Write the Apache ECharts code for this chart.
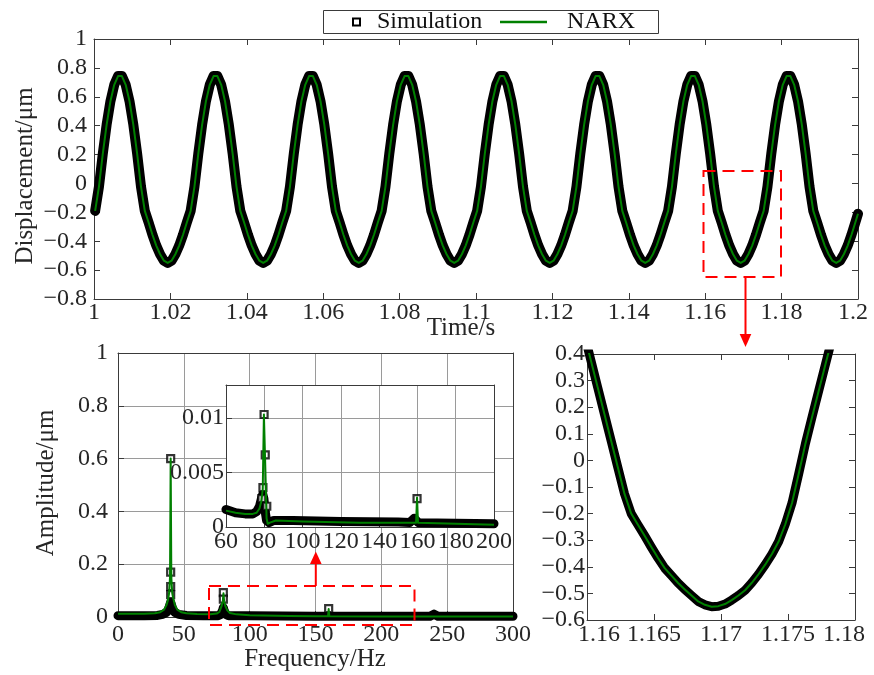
<!DOCTYPE html>
<html>
<head>
<meta charset="utf-8">
<script src="https://cdn.jsdelivr.net/npm/echarts@6/dist/echarts.min.js"></script>
<style>html,body{margin:0;padding:0;background:#fff}#c{width:874px;height:675px}</style>
</head>
<body>
<div id="c"></div>
<script>
// ---------- time-domain response (top panel), seconds / µm ----------
const timeS = [
1.0003,1.0013,1.0023,1.0033,1.0043,1.0053,1.0063,1.0073,1.0083,1.0093,1.0103,1.0113,1.0123,1.0133,1.0143,1.0153,1.0163,1.0173,1.0183,1.0193,1.0203,1.0213,1.0223,1.0233,1.0243,
1.0253,1.0263,1.0273,1.0283,1.0293,1.0303,1.0313,1.0323,1.0333,1.0343,1.0353,1.0363,1.0373,1.0383,1.0393,1.0403,1.0413,1.0423,1.0433,1.0443,1.0453,1.0463,1.0473,1.0483,1.0493,
1.0503,1.0513,1.0523,1.0533,1.0543,1.0553,1.0563,1.0573,1.0583,1.0593,1.0603,1.0613,1.0623,1.0633,1.0643,1.0653,1.0663,1.0673,1.0683,1.0693,1.0703,1.0713,1.0723,1.0733,1.0743,
1.0753,1.0763,1.0773,1.0783,1.0793,1.0803,1.0813,1.0823,1.0833,1.0843,1.0853,1.0863,1.0873,1.0883,1.0893,1.0903,1.0913,1.0923,1.0933,1.0943,1.0953,1.0963,1.0973,1.0983,1.0993,
1.1003,1.1013,1.1023,1.1033,1.1043,1.1053,1.1063,1.1073,1.1083,1.1093,1.1103,1.1113,1.1123,1.1133,1.1143,1.1153,1.1163,1.1173,1.1183,1.1193,1.1203,1.1213,1.1223,1.1233,1.1243,
1.1253,1.1263,1.1273,1.1283,1.1293,1.1303,1.1313,1.1323,1.1333,1.1343,1.1353,1.1363,1.1373,1.1383,1.1393,1.1403,1.1413,1.1423,1.1433,1.1443,1.1453,1.1463,1.1473,1.1483,1.1493,
1.1503,1.1513,1.1523,1.1533,1.1543,1.1553,1.1563,1.1573,1.1583,1.1593,1.1603,1.1613,1.1623,1.1633,1.1643,1.1653,1.1663,1.1673,1.1683,1.1693,1.1703,1.1713,1.1723,1.1733,1.1743,
1.1753,1.1763,1.1773,1.1783,1.1793,1.1803,1.1813,1.1823,1.1833,1.1843,1.1853,1.1863,1.1873,1.1883,1.1893,1.1903,1.1913,1.1923,1.1933,1.1943,1.1953,1.1963,1.1973,1.1983,1.1993,
1.2000
];
const dispSim = [
-0.19,-0.022,0.205,0.406,0.569,0.683,0.743,0.743,0.683,0.569,0.406,0.205,-0.022,-0.19,-0.27,-0.355,-0.43,-0.49,-0.535,-0.55,-0.535,-0.49,-0.43,-0.355,-0.27,
-0.19,-0.022,0.205,0.406,0.569,0.683,0.743,0.743,0.683,0.569,0.406,0.205,-0.022,-0.19,-0.27,-0.355,-0.43,-0.49,-0.535,-0.55,-0.535,-0.49,-0.43,-0.355,-0.27,
-0.19,-0.022,0.205,0.406,0.569,0.683,0.743,0.743,0.683,0.569,0.406,0.205,-0.022,-0.19,-0.27,-0.355,-0.43,-0.49,-0.535,-0.55,-0.535,-0.49,-0.43,-0.355,-0.27,
-0.19,-0.022,0.205,0.406,0.569,0.683,0.743,0.743,0.683,0.569,0.406,0.205,-0.022,-0.19,-0.27,-0.355,-0.43,-0.49,-0.535,-0.55,-0.535,-0.49,-0.43,-0.355,-0.27,
-0.19,-0.022,0.205,0.406,0.569,0.683,0.743,0.743,0.683,0.569,0.406,0.205,-0.022,-0.19,-0.27,-0.355,-0.43,-0.49,-0.535,-0.55,-0.535,-0.49,-0.43,-0.355,-0.27,
-0.19,-0.022,0.205,0.406,0.569,0.683,0.743,0.743,0.683,0.569,0.406,0.205,-0.022,-0.19,-0.27,-0.355,-0.43,-0.49,-0.535,-0.55,-0.535,-0.49,-0.43,-0.355,-0.27,
-0.19,-0.022,0.205,0.406,0.569,0.683,0.743,0.743,0.683,0.569,0.406,0.205,-0.022,-0.19,-0.27,-0.355,-0.43,-0.49,-0.535,-0.55,-0.535,-0.49,-0.43,-0.355,-0.27,
-0.19,-0.022,0.205,0.406,0.569,0.683,0.743,0.743,0.683,0.569,0.406,0.205,-0.022,-0.19,-0.27,-0.355,-0.43,-0.49,-0.535,-0.55,-0.535,-0.49,-0.43,-0.355,-0.27,
-0.21
];
const dispNarx = dispSim; // NARX output overlays the simulation within line width

// ---------- zoomed trough (bottom-right panel) ----------
const zoomTime = [1.1598,1.1603,1.1608,1.1613,1.1618,1.1623,1.1628,1.1633,1.1638,1.1643,1.1648,1.1653,1.1658,1.1663,1.1668,1.1673,1.1678,1.1683,1.1688,1.1693,
1.1698,1.1703,1.1708,1.1713,1.1718,1.1723,1.1728,1.1733,1.1738,1.1743,1.1748,1.1753,1.1758,1.1763,1.1768,1.1773,1.1778,1.1783,1.1788,1.1793,1.1798,1.1803];
const zoomSim = [0.474,0.374,0.274,0.174,0.074,-0.026,-0.126,-0.2,-0.242,-0.283,-0.326,-0.367,-0.405,-0.433,-0.461,-0.485,-0.508,-0.53,-0.543,-0.55,
-0.548,-0.54,-0.525,-0.508,-0.488,-0.46,-0.428,-0.392,-0.352,-0.305,-0.24,-0.16,-0.05,0.063,0.164,0.263,0.362,0.46,0.55,0.62,0.68,0.72];
const zoomNarx = zoomSim;

// ---------- amplitude spectrum (bottom-left panel), Hz / µm ----------
const specSimFreq = [0,20,30,34,37,38.5,39.5,40,40.5,41.5,43,46,52,65,76,78,79.5,80,80.5,82,84,100,150,200,237,240,243,270,300];
const specSimAmp  = [0.005,0.005,0.006,0.01,0.018,0.032,0.048,0.056,0.048,0.032,0.018,0.01,0.006,0.005,0.005,0.01,0.026,0.036,0.026,0.01,0.005,0.005,0.003,0.003,0.003,0.011,0.003,0.003,0.003];
const specMarkFreq = [40,40,40,40,80,80,160];
const specMarkAmp  = [0.6,0.17,0.115,0.085,0.092,0.068,0.032];
const specNarxFreq = [0,20,28,32,35,36.8,38,38.8,39.5,40,40.5,41.2,42,43.2,45,48,52,60,70,75,77,78.6,79.6,80.1,80.6,81.6,83,85,90,100,130,150,159.5,160,160.5,200,300];
const specNarxAmp  = [0.012,0.012,0.014,0.018,0.028,0.045,0.065,0.09,0.15,0.6,0.15,0.09,0.07,0.045,0.028,0.018,0.014,0.011,0.01,0.013,0.019,0.04,0.06,0.09,0.06,0.04,0.025,0.015,0.01,0.007,0.004,0.003,0.003,0.03,0.003,0.002,0.002];

// ---------- inset spectrum 60-200 Hz ----------
const insetSimFreq = [60,65,70,74,76,77.5,78.5,79.2,79.8,80.5,81.2,82.5,85,95,120,150,156,158.3,160.5,180,200];
const insetSimAmp  = [0.0016,0.0013,0.0012,0.0012,0.0014,0.0019,0.0026,0.003,0.0026,0.0014,0.0006,0.0004,0.0006,0.0006,0.0005,0.00045,0.00042,0.0008,0.0004,0.00035,0.0003];
const insetMarkFreq = [79.9,80.5,79.3,78.7,81.3,159.8];
const insetMarkAmp  = [0.0103,0.0066,0.0036,0.0026,0.0019,0.0026];
const insetNarxFreq = [60,65,70,74,76,77.5,78.5,79.2,79.8,80.6,81.2,81.8,83,86,100,130,159.3,159.8,160.3,180,200];
const insetNarxAmp  = [0.0015,0.0013,0.0012,0.0012,0.0013,0.0017,0.0024,0.0035,0.0103,0.005,0.0008,0.0003,0.0004,0.0006,0.0005,0.0004,0.0004,0.0027,0.0004,0.0003,0.0002];

// ---------- styling ----------
const FONT = "'Liberation Serif', 'Times New Roman', serif";
const TXT = '#262626';
const AX = '#3a3a3a';
const GRIDC = '#9a9a9a';
const GREEN = '#008000';
const RED = '#ff0000';

const pairs = (xs, ys) => xs.map((x, i) => [x, ys[i]]);
function fmt(v) { return String(Math.round(v * 1e6) / 1e6).replace('-', '\u2212'); }

function axis(gi, pos, min, max, interval, cfg) {
  cfg = cfg || {};
  const lab = cfg.labels ? {
    show: true, margin: cfg.margin, fontFamily: FONT, fontSize: 24, color: TXT, formatter: cfg.formatter || fmt
  } : { show: false };
  if (cfg.labels && cfg.showMax !== undefined) lab.showMaxLabel = cfg.showMax;
  if (cfg.labels && cfg.showMin !== undefined) lab.showMinLabel = cfg.showMin;
  if (cfg.labels && cfg.rich) lab.rich = cfg.rich;
  return {
    type: 'value', gridIndex: gi, position: pos, min: min, max: max, interval: interval,
    z: cfg.z || 0,
    axisLine: { show: true, onZero: false, lineStyle: { color: AX, width: 1 } },
    axisTick: { show: cfg.ticks !== false, inside: true, length: 6, lineStyle: { color: AX } },
    axisLabel: lab,
    splitLine: { show: !!cfg.grid, lineStyle: { color: GRIDC, width: 1 } }
  };
}

// end labels of the zoom panel sit slightly inward, as in the source figure
const edgeRich = {
  lo: { fontFamily: FONT, fontSize: 24, color: TXT, padding: [0, 0, 0, 24] },
  hi: { fontFamily: FONT, fontSize: 24, color: TXT, padding: [0, 22, 0, 0] }
};
function zoomFmt(v) {
  const s = fmt(v);
  if (Math.abs(v - 1.16) < 1e-9) return '{lo|' + s + '}';
  if (Math.abs(v - 1.18) < 1e-9) return '{hi|' + s + '}';
  return s;
}
function topFmt(v) {
  const s = fmt(v);
  if (Math.abs(v - 1.2) < 1e-9) return '{hi2|' + s + '}';
  return s;
}

const simMarker = { color: '#fff', borderColor: '#000', borderWidth: 2.2 };

const option = {
  animation: false,
  backgroundColor: '#fff',
  legend: [
    { data: [{ name: 'Simulation', icon: 'rect' }], left: 352, top: 10, padding: 0,
      itemWidth: 7, itemHeight: 7, selectedMode: false,
      itemStyle: { color: '#fff', borderColor: '#000', borderWidth: 2 },
      textStyle: { fontFamily: FONT, fontSize: 24, color: '#111', padding: [0, 0, 0, 12] } },
    { data: [{ name: 'NARX', icon: 'rect' }], left: 500, top: 10, padding: 0,
      itemWidth: 47, itemHeight: 2.5, selectedMode: false,
      itemStyle: { color: GREEN, borderWidth: 0 },
      textStyle: { fontFamily: FONT, fontSize: 24, color: '#111', padding: [0, 0, 0, 15] } }
  ],
  grid: [
    { left: 94, top: 39, width: 764, height: 260 },
    { left: 118, top: 353, width: 395, height: 264 },
    { left: 226, top: 385, width: 268, height: 142, show: true, backgroundColor: '#fff', borderWidth: 0, z: 10 },
    { left: 587, top: 354, width: 268, height: 266 }
  ],
  xAxis: [
    axis(0, 'bottom', 1, 1.2, 0.02, { labels: true, margin: 2, showMin: true, showMax: true, formatter: topFmt,
      rich: { hi2: { fontFamily: FONT, fontSize: 24, color: TXT, padding: [0, 10, 0, 0] } } }),
    axis(0, 'top', 1, 1.2, 0.02, {}),
    axis(1, 'bottom', 0, 300, 50, { labels: true, margin: 6, grid: true }),
    axis(1, 'top', 0, 300, 50, { ticks: false }),
    axis(2, 'bottom', 60, 200, 20, { labels: true, margin: 3, grid: true, z: 11 }),
    axis(2, 'top', 60, 200, 20, { ticks: false, z: 11 }),
    axis(3, 'bottom', 1.16, 1.18, 0.005, { labels: true, margin: 3, showMin: true, showMax: true, formatter: zoomFmt, rich: edgeRich }),
    axis(3, 'top', 1.16, 1.18, 0.005, {})
  ],
  yAxis: [
    axis(0, 'left', -0.8, 1, 0.2, { labels: true, margin: 7 }),
    axis(0, 'right', -0.8, 1, 0.2, {}),
    axis(1, 'left', 0, 1, 0.2, { labels: true, margin: 10, grid: true }),
    axis(1, 'right', 0, 1, 0.2, { ticks: false }),
    axis(2, 'left', 0, 0.013, 0.005, { labels: true, margin: 2, grid: true, showMax: false, z: 11 }),
    axis(2, 'right', 0, 0.013, 0.005, { ticks: false, z: 11 }),
    axis(3, 'left', -0.6, 0.4, 0.1, { labels: true, margin: 2 }),
    axis(3, 'right', -0.6, 0.4, 0.1, {})
  ],
  series: [
    // top
    { type: 'line', name: 'Simulation', xAxisIndex: 0, yAxisIndex: 0, data: pairs(timeS, dispSim),
      symbol: 'none', clip: false, silent: true, z: 2,
      lineStyle: { color: '#000', width: 10, join: 'round', cap: 'round' } },
    { type: 'line', name: 'NARX', xAxisIndex: 0, yAxisIndex: 0, data: pairs(timeS, dispNarx),
      symbol: 'none', clip: false, silent: true, z: 4,
      lineStyle: { color: GREEN, width: 2, join: 'round' } },
    // spectrum
    { type: 'line', name: 'Simulation', xAxisIndex: 2, yAxisIndex: 2, data: pairs(specSimFreq, specSimAmp),
      symbol: 'none', clip: false, silent: true, z: 2,
      lineStyle: { color: '#000', width: 9, join: 'round', cap: 'round' } },
    { type: 'scatter', name: 'Simulation', xAxisIndex: 2, yAxisIndex: 2, data: pairs(specMarkFreq, specMarkAmp),
      symbol: 'rect', symbolSize: 7, silent: true, z: 3, itemStyle: simMarker },
    { type: 'line', name: 'NARX', xAxisIndex: 2, yAxisIndex: 2, data: pairs(specNarxFreq, specNarxAmp),
      symbol: 'none', clip: false, silent: true, z: 4,
      lineStyle: { color: GREEN, width: 2, join: 'round' } },
    // inset
    { type: 'line', name: 'Simulation', xAxisIndex: 4, yAxisIndex: 4, data: pairs(insetSimFreq, insetSimAmp),
      symbol: 'none', clip: false, silent: true, z: 12,
      lineStyle: { color: '#000', width: 9, join: 'round', cap: 'round' } },
    { type: 'scatter', name: 'Simulation', xAxisIndex: 4, yAxisIndex: 4, data: pairs(insetMarkFreq, insetMarkAmp),
      symbol: 'rect', symbolSize: 7, silent: true, z: 13, itemStyle: simMarker },
    { type: 'line', name: 'NARX', xAxisIndex: 4, yAxisIndex: 4, data: pairs(insetNarxFreq, insetNarxAmp),
      symbol: 'none', clip: false, silent: true, z: 14,
      lineStyle: { color: GREEN, width: 2, join: 'round' } },
    // zoomed trough
    { type: 'line', name: 'Simulation', xAxisIndex: 6, yAxisIndex: 6, data: pairs(zoomTime, zoomSim),
      symbol: 'none', clip: true, silent: true, z: 2,
      lineStyle: { color: '#000', width: 9, join: 'round', cap: 'round' } },
    { type: 'line', name: 'NARX', xAxisIndex: 6, yAxisIndex: 6, data: pairs(zoomTime, zoomNarx),
      symbol: 'none', clip: true, silent: true, z: 4,
      lineStyle: { color: GREEN, width: 2, join: 'round' } }
  ],
  graphic: [
    { type: 'rect', z: -1, shape: { x: 323.5, y: 10.5, width: 335, height: 23 },
      style: { fill: '#fff', stroke: AX, lineWidth: 1 } },
    { type: 'text', z: 50, x: 25, y: 176, rotation: Math.PI / 2,
      style: { text: 'Displacement/\u03bcm', font: "25px 'Liberation Serif'", fill: TXT, align: 'center', verticalAlign: 'middle' } },
    { type: 'text', z: 50, x: 461, y: 328,
      style: { text: 'Time/s', font: "25px 'Liberation Serif'", fill: TXT, align: 'center', verticalAlign: 'middle' } },
    { type: 'text', z: 50, x: 46, y: 483, rotation: Math.PI / 2,
      style: { text: 'Amplitude/\u03bcm', font: "25px 'Liberation Serif'", fill: TXT, align: 'center', verticalAlign: 'middle' } },
    { type: 'text', z: 50, x: 315, y: 659,
      style: { text: 'Frequency/Hz', font: "25px 'Liberation Serif'", fill: TXT, align: 'center', verticalAlign: 'middle' } },
    // red annotations
    { type: 'rect', z: 100, shape: { x: 703.5, y: 171, width: 77.5, height: 106 },
      style: { fill: 'none', stroke: RED, lineWidth: 2, lineDash: [12, 7] } },
    { type: 'line', z: 100, shape: { x1: 745.5, y1: 277, x2: 745.5, y2: 336 }, style: { stroke: RED, lineWidth: 2 } },
    { type: 'polygon', z: 100, shape: { points: [[739.7, 334], [751.3, 334], [745.5, 347]] }, style: { fill: RED } },
    { type: 'rect', z: 100, shape: { x: 209, y: 586, width: 205.5, height: 39 },
      style: { fill: 'none', stroke: RED, lineWidth: 2, lineDash: [12, 7] } },
    { type: 'line', z: 100, shape: { x1: 315.8, y1: 586, x2: 315.8, y2: 562 }, style: { stroke: RED, lineWidth: 2 } },
    { type: 'polygon', z: 100, shape: { points: [[310, 564], [321.6, 564], [315.8, 551.5]] }, style: { fill: RED } }
  ]
};

const chart = echarts.init(document.getElementById('c'), null, { renderer: 'canvas' });
chart.setOption(option);
</script>
</body>
</html>
